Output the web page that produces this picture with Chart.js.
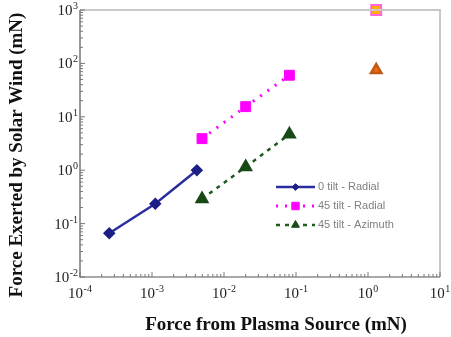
<!DOCTYPE html>
<html>
<head>
<meta charset="utf-8">
<script src="https://cdn.jsdelivr.net/npm/chart.js@4.4.1/dist/chart.umd.min.js"></script>
<style>
html,body{margin:0;padding:0;background:#fff;}
#wrap{width:451px;height:337px;}
</style>
</head>
<body>
<div id="wrap"><canvas id="c" width="451" height="337"></canvas></div>
<script>
// ---- data ----
const seriesNames = ['0 tilt - Radial', '45 tilt - Radial', '45 tilt - Azimuth'];
const radial0X = [2.55e-4, 1.11e-3, 4.2e-3];
const radial0Y = [0.066, 0.235, 1.0];
const radial45X = [4.95e-3, 2.0e-2, 8.1e-2, 1.3];
const radial45Y = [3.9, 15.5, 60, 1000];
const azim45X = [4.95e-3, 2.0e-2, 8.1e-2, 1.3];
const azim45Y = [0.29, 1.15, 4.7, 75];
const xDecades = [-4, -3, -2, -1, 0, 1];
const yDecades = [-2, -1, 0, 1, 2, 3];
const xTitle = 'Force from Plasma Source (mN)';
const yTitle = 'Force Exerted by Solar Wind (mN)';

const pts = (xs, ys) => xs.map((x, i) => ({x: x, y: ys[i]}));
function logTicks(decades){
  const t = [];
  for (let i = 0; i < decades.length; i++){
    const e = decades[i];
    t.push({value: Math.pow(10, e), major: true});
    if (i < decades.length - 1) for (let k = 2; k <= 9; k++) t.push({value: k * Math.pow(10, e)});
  }
  return t;
}
const isPow = v => Math.abs(Math.log10(v) - Math.round(Math.log10(v))) < 1e-9;

const serif = 'Liberation Serif, Times New Roman, serif';
const baseFont = '15px ' + serif;
const expFont = '10px ' + serif;

const lastGap = ctx => ctx.p1DataIndex === 3 ? 'rgba(0,0,0,0)' : undefined;

const datasets = [
  {label: seriesNames[0], data: pts(radial0X, radial0Y), borderColor: '#2b2f9e', backgroundColor: '#1c1f86',
   borderWidth: 2.5, pointStyle: 'rectRot', pointRadius: 4.5, pointBorderColor: '#1c1f86', pointBackgroundColor: '#1c1f86', clip: false},
  {label: seriesNames[1], data: pts(radial45X, radial45Y), borderColor: '#ff00ff', backgroundColor: '#ff00ff',
   borderWidth: 3, borderDash: [2, 7], pointStyle: 'rect', pointRadius: 7,
   pointBackgroundColor: ['#ff00ff','#ff00ff','#ff00ff','#ffb000'], pointBorderColor: ['#ff00ff','#ff00ff','#ff00ff','#ff66dd'],
   pointBorderWidth: [1,1,1,2], segment: {borderColor: lastGap}, clip: false},
  {label: seriesNames[2], data: pts(azim45X, azim45Y), borderColor: '#1f5a1f', backgroundColor: '#174a17',
   borderWidth: 2.5, borderDash: [4, 5], pointStyle: 'triangle', pointRadius: 6,
   pointBackgroundColor: ['#174a17','#174a17','#174a17','#f06a10'], pointBorderColor: ['#174a17','#174a17','#174a17','#c05a10'],
   segment: {borderColor: lastGap}, clip: false}
];

function powLabel(ctx, v, x, y, align){
  const e = String(Math.round(Math.log10(v)));
  ctx.font = baseFont; const wb = ctx.measureText('10').width;
  ctx.font = expFont; const we = ctx.measureText(e).width;
  const total = wb + we + 0.5;
  let left = align === 'right' ? x - total : x - total / 2;
  ctx.textAlign = 'left'; ctx.textBaseline = 'alphabetic';
  ctx.font = baseFont; ctx.fillText('10', left, y + 5);
  ctx.font = expFont; ctx.fillText(e, left + wb + 0.5, y - 1);
}

const framePlugin = {
  id: 'frame',
  afterDatasetsDraw(chart){
    const {ctx, chartArea: a, scales} = chart;
    ctx.save();
    ctx.strokeStyle = '#c8c8c8'; ctx.lineWidth = 2;
    ctx.beginPath(); ctx.moveTo(a.left, a.top); ctx.lineTo(a.right, a.top); ctx.lineTo(a.right, a.bottom); ctx.stroke();
    ctx.strokeStyle = '#555'; ctx.lineWidth = 1.2;
    ctx.beginPath(); ctx.moveTo(a.left, a.top); ctx.lineTo(a.left, a.bottom); ctx.lineTo(a.right, a.bottom); ctx.stroke();
    ctx.strokeStyle = '#777'; ctx.lineWidth = 1;
    ctx.fillStyle = '#222';
    scales.x.ticks.forEach(t => {
      const px = scales.x.getPixelForValue(t.value);
      const len = isPow(t.value) ? 5 : 3;
      ctx.beginPath(); ctx.moveTo(px, a.bottom); ctx.lineTo(px, a.bottom - len); ctx.stroke();
      if (isPow(t.value)) powLabel(ctx, t.value, px, a.bottom + 16, 'center');
    });
    scales.y.ticks.forEach(t => {
      const py = scales.y.getPixelForValue(t.value);
      const len = isPow(t.value) ? 5 : 3;
      ctx.beginPath(); ctx.moveTo(a.left, py); ctx.lineTo(a.left + len, py); ctx.stroke();
      if (isPow(t.value)) powLabel(ctx, t.value, a.left - 2, py, 'right');
    });
    // axis titles
    ctx.fillStyle = '#111';
    ctx.font = 'bold 19px ' + serif;
    ctx.textAlign = 'center'; ctx.textBaseline = 'middle';
    ctx.fillText(xTitle, 276, 325);
    ctx.save();
    ctx.translate(17, 155); ctx.rotate(-Math.PI / 2);
    ctx.fillText(yTitle, 0, 0);
    ctx.restore();
    // legend
    const x0 = a.left + 196, x1 = a.left + 235, tx = a.left + 238;
    const rows = [187, 206, 225];
    ctx.font = '11px Liberation Sans, Arial, sans-serif';
    ctx.textAlign = 'left';
    chart.data.datasets.forEach((ds, i) => {
      const y = rows[i];
      ctx.save();
      ctx.strokeStyle = ds.borderColor; ctx.lineWidth = ds.borderWidth;
      ctx.setLineDash(ds.borderDash || []);
      ctx.beginPath(); ctx.moveTo(x0, y); ctx.lineTo(x1, y); ctx.stroke();
      ctx.restore();
      const bg = Array.isArray(ds.pointBackgroundColor) ? ds.pointBackgroundColor[0] : ds.pointBackgroundColor;
      ctx.fillStyle = bg; ctx.strokeStyle = bg;
      Chart.helpers.drawPoint(ctx, {pointStyle: ds.pointStyle, radius: ds.pointRadius * 0.75, borderWidth: 1, rotation: 0}, (x0 + x1) / 2, y);
      ctx.fillStyle = '#808080';
      ctx.fillText(ds.label, tx, y);
    });
    ctx.restore();
  }
};

new Chart(document.getElementById('c'), {
  type: 'line',
  data: {datasets: datasets},
  plugins: [framePlugin],
  options: {
    responsive: false,
    animation: false,
    layout: {padding: {top: 10, right: 11, left: 0, bottom: 0}},
    plugins: {legend: {display: false}, tooltip: {enabled: false}},
    scales: {
      x: {
        type: 'logarithmic', min: 1e-4, max: 10,
        afterBuildTicks: s => { s.ticks = logTicks(xDecades); },
        afterFit: s => { s.height = 60; },
        grid: {display: false}, border: {display: false},
        ticks: {display: false, autoSkip: false}
      },
      y: {
        type: 'logarithmic', min: 1e-2, max: 1e3,
        afterBuildTicks: s => { s.ticks = logTicks(yDecades); },
        afterFit: s => { s.width = 80; },
        grid: {display: false}, border: {display: false},
        ticks: {display: false, autoSkip: false}
      }
    }
  }
});
</script>
</body>
</html>
